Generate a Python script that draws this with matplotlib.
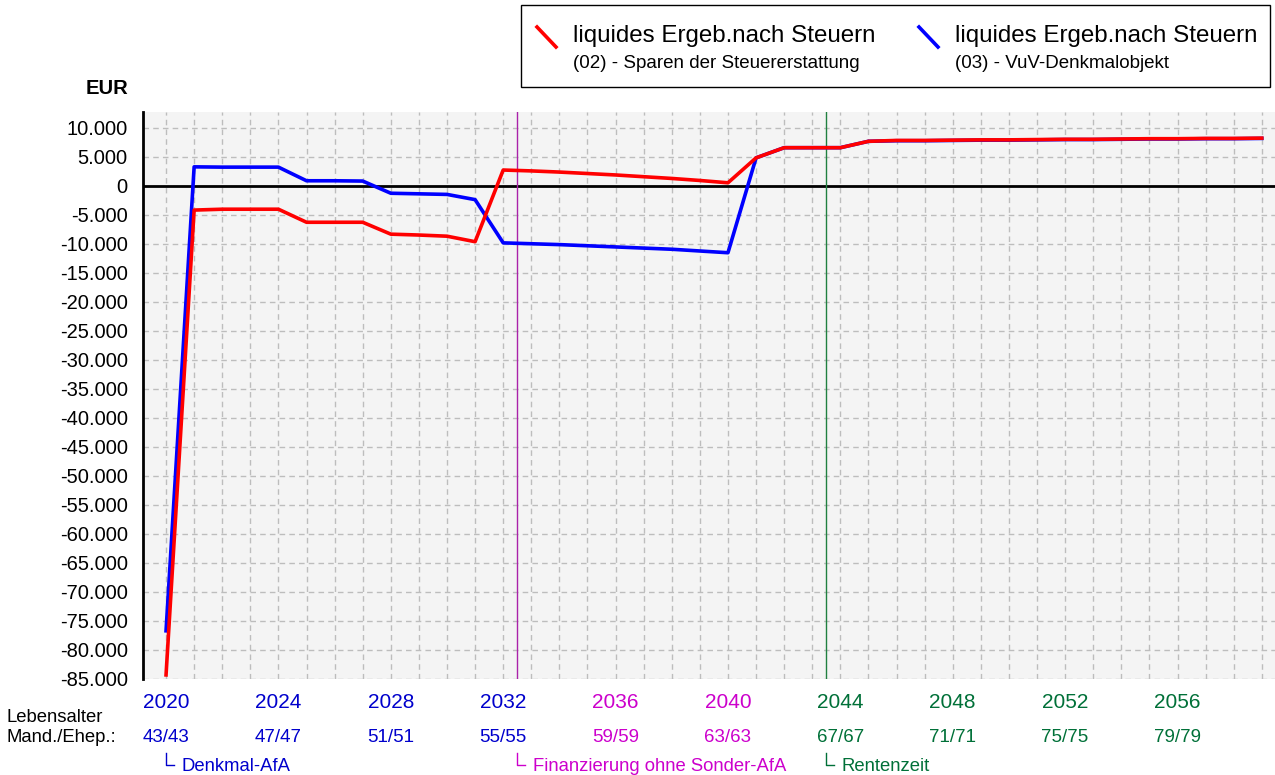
import matplotlib
matplotlib.use('Agg')
import matplotlib.pyplot as plt
from matplotlib.lines import Line2D
from matplotlib.patches import Rectangle

plt.rcParams['font.family'] = ['Liberation Sans', 'DejaVu Sans']

# --- data -------------------------------------------------------------
years = list(range(2020, 2060))

red_02 = [-84300, -4200, -4050, -4050, -4050, -6300, -6300, -6300, -8350, -8500,
          -8700, -9650, 2700, 2550, 2350, 2100, 1850, 1550, 1250, 900,
          500, 4800, 6550, 6550, 6550, 7650, 7800, 7800, 7850, 7900,
          7900, 7950, 8000, 8000, 8050, 8100, 8100, 8150, 8150, 8200]
blue_03 = [-76700, 3250, 3200, 3200, 3200, 850, 850, 800, -1300, -1400,
           -1500, -2400, -9850, -10000, -10150, -10350, -10550, -10750, -10950, -11250,
           -11550, 4800, 6550, 6550, 6550, 7650, 7750, 7750, 7800, 7850,
           7850, 7900, 7950, 7950, 8000, 8050, 8050, 8100, 8100, 8150]

tick_years = [2020, 2024, 2028, 2032, 2036, 2040, 2044, 2048, 2052, 2056]
tick_ages = ['43/43', '47/47', '51/51', '55/55', '59/59', '63/63',
             '67/67', '71/71', '75/75', '79/79']
phase_names = ['Denkmal-AfA', 'Finanzierung ohne Sonder-AfA', 'Rentenzeit']
phase_start = [2020.0, 2032.5, 2043.5]

BLUE_T = '#0000cc'
MAG_T = '#cc00cc'
GREEN_T = '#007038'


def year_color(y):
    if y <= 2032:
        return BLUE_T
    if y <= 2040:
        return MAG_T
    return GREEN_T


# --- figure -----------------------------------------------------------
W, H = 1275, 775
fig = plt.figure(figsize=(W / 100, H / 100), dpi=100)
ax = fig.add_axes([143 / W, 1 - 679 / H, (W - 143) / W, (679 - 112) / H])
ax.set_facecolor('#f4f4f4')

ax.set_xlim(2019.18, 2059.47)
ax.set_ylim(-85000, 12700)

ax.set_yticks(range(-85000, 10001, 5000))
ax.set_yticklabels([f"{v:,.0f}".replace(',', '.') for v in range(-85000, 10001, 5000)],
                   fontsize=14.5)
ax.tick_params(axis='y', length=0, pad=11)
ax.set_xticks(years)
ax.tick_params(axis='x', length=0, labelbottom=False)

ax.grid(True, color='#bdbdbd', linestyle=(0, (4, 3)), linewidth=1)
ax.set_axisbelow(True)
for s in ['top', 'right', 'bottom']:
    ax.spines[s].set_visible(False)
ax.spines['left'].set_linewidth(2)
ax.spines['left'].set_color('black')

ax.axhline(0, color='black', linewidth=2, zorder=2)
ax.axvline(2032.5, color='#aa22aa', linewidth=1, zorder=2)
ax.axvline(2043.5, color='#208040', linewidth=1, zorder=2)

ax.plot(years, blue_03, color='#0000ff', linewidth=2.6, zorder=3)
ax.plot(years, red_02, color='#ff0000', linewidth=2.6, zorder=4)

# --- bottom labels ----------------------------------------------------
tr = ax.get_xaxis_transform()
for y, age in zip(tick_years, tick_ages):
    c = year_color(y)
    ax.text(y, -0.041, str(y), transform=tr, ha='center', va='center',
            fontsize=15, color=c)
    ax.text(y, -0.103, age, transform=tr, ha='center', va='center',
            fontsize=13.5, color=c)

fig.text(7 / W, 1 - 717 / H, 'Lebensalter', ha='left', va='center', fontsize=13.3)
fig.text(7 / W, 1 - 737 / H, 'Mand./Ehep.:', ha='left', va='center', fontsize=13.3)
fig.text(128 / W, 1 - 88 / H, 'EUR', ha='right', va='center', fontsize=14.5,
         fontweight='bold')

for name, x0, c in zip(phase_names, phase_start, [BLUE_T, MAG_T, GREEN_T]):
    ax.plot([x0, x0, x0 + 0.28], [-0.130, -0.152, -0.152], transform=tr,
            color=c, linewidth=1, clip_on=False)
    ax.text(x0 + 0.55, -0.154, name, transform=tr, ha='left', va='center',
            fontsize=13.3, color=c)

# --- legend box -------------------------------------------------------
fig.patches.append(Rectangle((521 / W, 1 - 87 / H), (1270 - 521) / W, 82 / H,
                             transform=fig.transFigure, facecolor='white',
                             edgecolor='black', linewidth=1))
legend_items = [
    (537, '#ff0000', '(02) - Sparen der Steuererstattung'),
    (919, '#0000ff', '(03) - VuV-Denkmalobjekt'),
]
for x0, col, sub in legend_items:
    fig.lines.append(Line2D([x0 / W, (x0 + 19) / W], [1 - 27 / H, 1 - 47 / H],
                            transform=fig.transFigure, color=col, linewidth=2.6))
    fig.text((x0 + 36) / W, 1 - 36 / H, 'liquides Ergeb.nach Steuern',
             ha='left', va='center', fontsize=17.4)
    fig.text((x0 + 36) / W, 1 - 64 / H, sub, ha='left', va='center', fontsize=13.5)

fig.savefig('out.png', dpi=100)
